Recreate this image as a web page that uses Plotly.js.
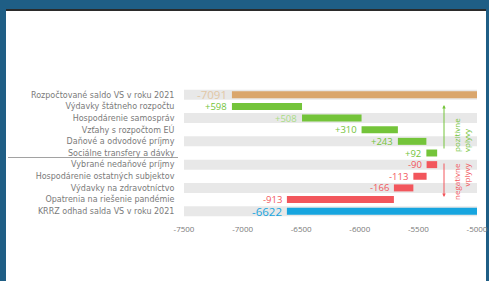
<!DOCTYPE html>
<html>
<head>
<meta charset="utf-8">
<script src="https://cdn.plot.ly/plotly-3.0.1.min.js"></script>
<style>
  html, body { margin:0; padding:0; width:489px; height:281px; overflow:hidden; background:#1f5e85; }
  #panel { position:absolute; left:6px; top:9px; width:480px; height:280px; background:#ffffff; border-top:2px solid #2b2b2b; }
  #chart { position:absolute; left:0; top:0; width:489px; height:281px; }
</style>
</head>
<body>
<div id="panel"></div>
<div id="chart"></div>
<script>
// ---- data ----
const categories = [
  "Rozpočtované saldo VS v roku 2021",
  "Výdavky štátneho rozpočtu",
  "Hospodárenie samospráv",
  "Vzťahy s rozpočtom EÚ",
  "Daňové a odvodové príjmy",
  "Sociálne transfery a dávky",
  "Vybrané nedaňové príjmy",
  "Hospodárenie ostatných subjektov",
  "Výdavky na zdravotníctvo",
  "Opatrenia na riešenie pandémie",
  "KRRZ odhad salda VS v roku 2021"
];
const values = [-7091, 598, 508, 310, 243, 92, -90, -113, -166, -913, -6622];
const kinds  = ["start","delta","delta","delta","delta","delta","delta","delta","delta","delta","end"];
const valueLabels = ["-7091","+598","+508","+310","+243","+92","-90","-113","-166","-913","-6622"];
const xTicks = [-7500, -7000, -6500, -6000, -5500, -5000];
const xTickLabels = ["-7500", "-7000", "-6500", "-6000", "-5500", "-5000"];
const sideLabels = ["pozitívne<br>vplyvy", "negatívne<br>vplyvy"];

// ---- styles ----
const C_START = "#daa66c", C_POS = "#74c43a", C_NEG = "#f2565c", C_END = "#17a5df", C_BAND = "#e8e8e8";
const xMin = xTicks[0], xMax = xTicks[xTicks.length - 1];

// compute waterfall geometry from data
const bases = [], lengths = [], colors = [], lefts = [];
let cum = 0;
values.forEach((v, i) => {
  if (kinds[i] === "start" || kinds[i] === "end") {
    bases.push(v); lengths.push(xMax - v); lefts.push(v);
    colors.push(kinds[i] === "start" ? C_START : C_END);
    cum = v;
  } else {
    bases.push(cum); lengths.push(v);
    lefts.push(Math.min(cum, cum + v));
    colors.push(v >= 0 ? C_POS : C_NEG);
    cum += v;
  }
});

const bandIdx = categories.map((c, i) => i).filter(i => i % 2 === 0);
const bands = {
  type: "bar", orientation: "h",
  y: bandIdx.map(i => categories[i]),
  x: bandIdx.map(() => xMax - xMin),
  base: bandIdx.map(() => xMin),
  width: 0.86,
  marker: { color: C_BAND },
  hoverinfo: "skip", showlegend: false
};
const bars = {
  type: "bar", orientation: "h",
  y: categories, x: lengths, base: bases,
  width: 0.6,
  marker: { color: colors },
  hoverinfo: "skip", showlegend: false
};

const labelColors = colors.map((c, i) => i === 0 ? "#e2c7a6" : (i === 2 ? "#a9dc86" : c));
const annotations = categories.map((c, i) => ({
  x: lefts[i], y: c, xref: "x", yref: "y",
  text: valueLabels[i], showarrow: false,
  xanchor: "right", yanchor: "middle", xshift: -3,
  font: { family: "Open Sans, sans-serif", size: (kinds[i] === "delta" ? 9.5 : 11.5), color: labelColors[i] }
}));

// side arrows and texts
const ax = (444 - 184) / 293;
annotations.push({
  x: ax, y: (217 - 105) / 128, xref: "paper", yref: "paper",
  ax: 0, ay: 45, axref: "pixel", ayref: "pixel",
  showarrow: true, arrowhead: 2, arrowsize: 0.7, arrowwidth: 1, arrowcolor: C_POS, text: ""
});
annotations.push({
  x: ax, y: (217 - 197) / 128, xref: "paper", yref: "paper",
  ax: 0, ay: -35, axref: "pixel", ayref: "pixel",
  showarrow: true, arrowhead: 2, arrowsize: 0.7, arrowwidth: 1, arrowcolor: C_NEG, text: ""
});
annotations.push({
  x: (461 - 184) / 293, y: (217 - 135) / 128, xref: "paper", yref: "paper",
  text: sideLabels[0], showarrow: false, textangle: -90, align: "left",
  xanchor: "center", yanchor: "middle",
  font: { family: "Open Sans, sans-serif", size: 8, color: C_POS }
});
annotations.push({
  x: (461 - 184) / 293, y: (217 - 182) / 128, xref: "paper", yref: "paper",
  text: sideLabels[1], showarrow: false, textangle: -90, align: "right",
  xanchor: "center", yanchor: "middle",
  font: { family: "Open Sans, sans-serif", size: 8, color: C_NEG }
});

const layout = {
  width: 489, height: 281,
  margin: { l: 184, r: 12, t: 89, b: 64, pad: 0 },
  paper_bgcolor: "rgba(0,0,0,0)", plot_bgcolor: "rgba(0,0,0,0)",
  barmode: "overlay",
  showlegend: false,
  xaxis: {
    range: [xMin, xMax], tickvals: xTicks, ticktext: xTickLabels,
    showgrid: false, zeroline: false, showline: false,
    ticks: "outside", ticklen: 4, tickcolor: "rgba(0,0,0,0)",
    tickfont: { family: "Open Sans, sans-serif", size: 8, color: "#7a7a7a" },
    fixedrange: true
  },
  yaxis: {
    type: "category", categoryorder: "array", categoryarray: categories,
    autorange: false, range: [categories.length - 0.5, -0.5],
    showgrid: false, zeroline: false, showline: false,
    ticks: "outside", ticklen: 7, tickcolor: "rgba(0,0,0,0)",
    tickfont: { family: "DejaVu Sans, sans-serif", size: 8, color: "#7a7a7a" },
    fixedrange: true
  },
  shapes: [{
    type: "line", xref: "paper", yref: "paper",
    x0: (8 - 184) / 293, x1: (178 - 184) / 293,
    y0: (217 - 157.5) / 128, y1: (217 - 157.5) / 128,
    line: { color: "#8a8a8a", width: 0.8 }
  }],
  annotations: annotations
};

Plotly.newPlot("chart", [bands, bars], layout, { displayModeBar: false, staticPlot: true });
</script>
</body>
</html>
